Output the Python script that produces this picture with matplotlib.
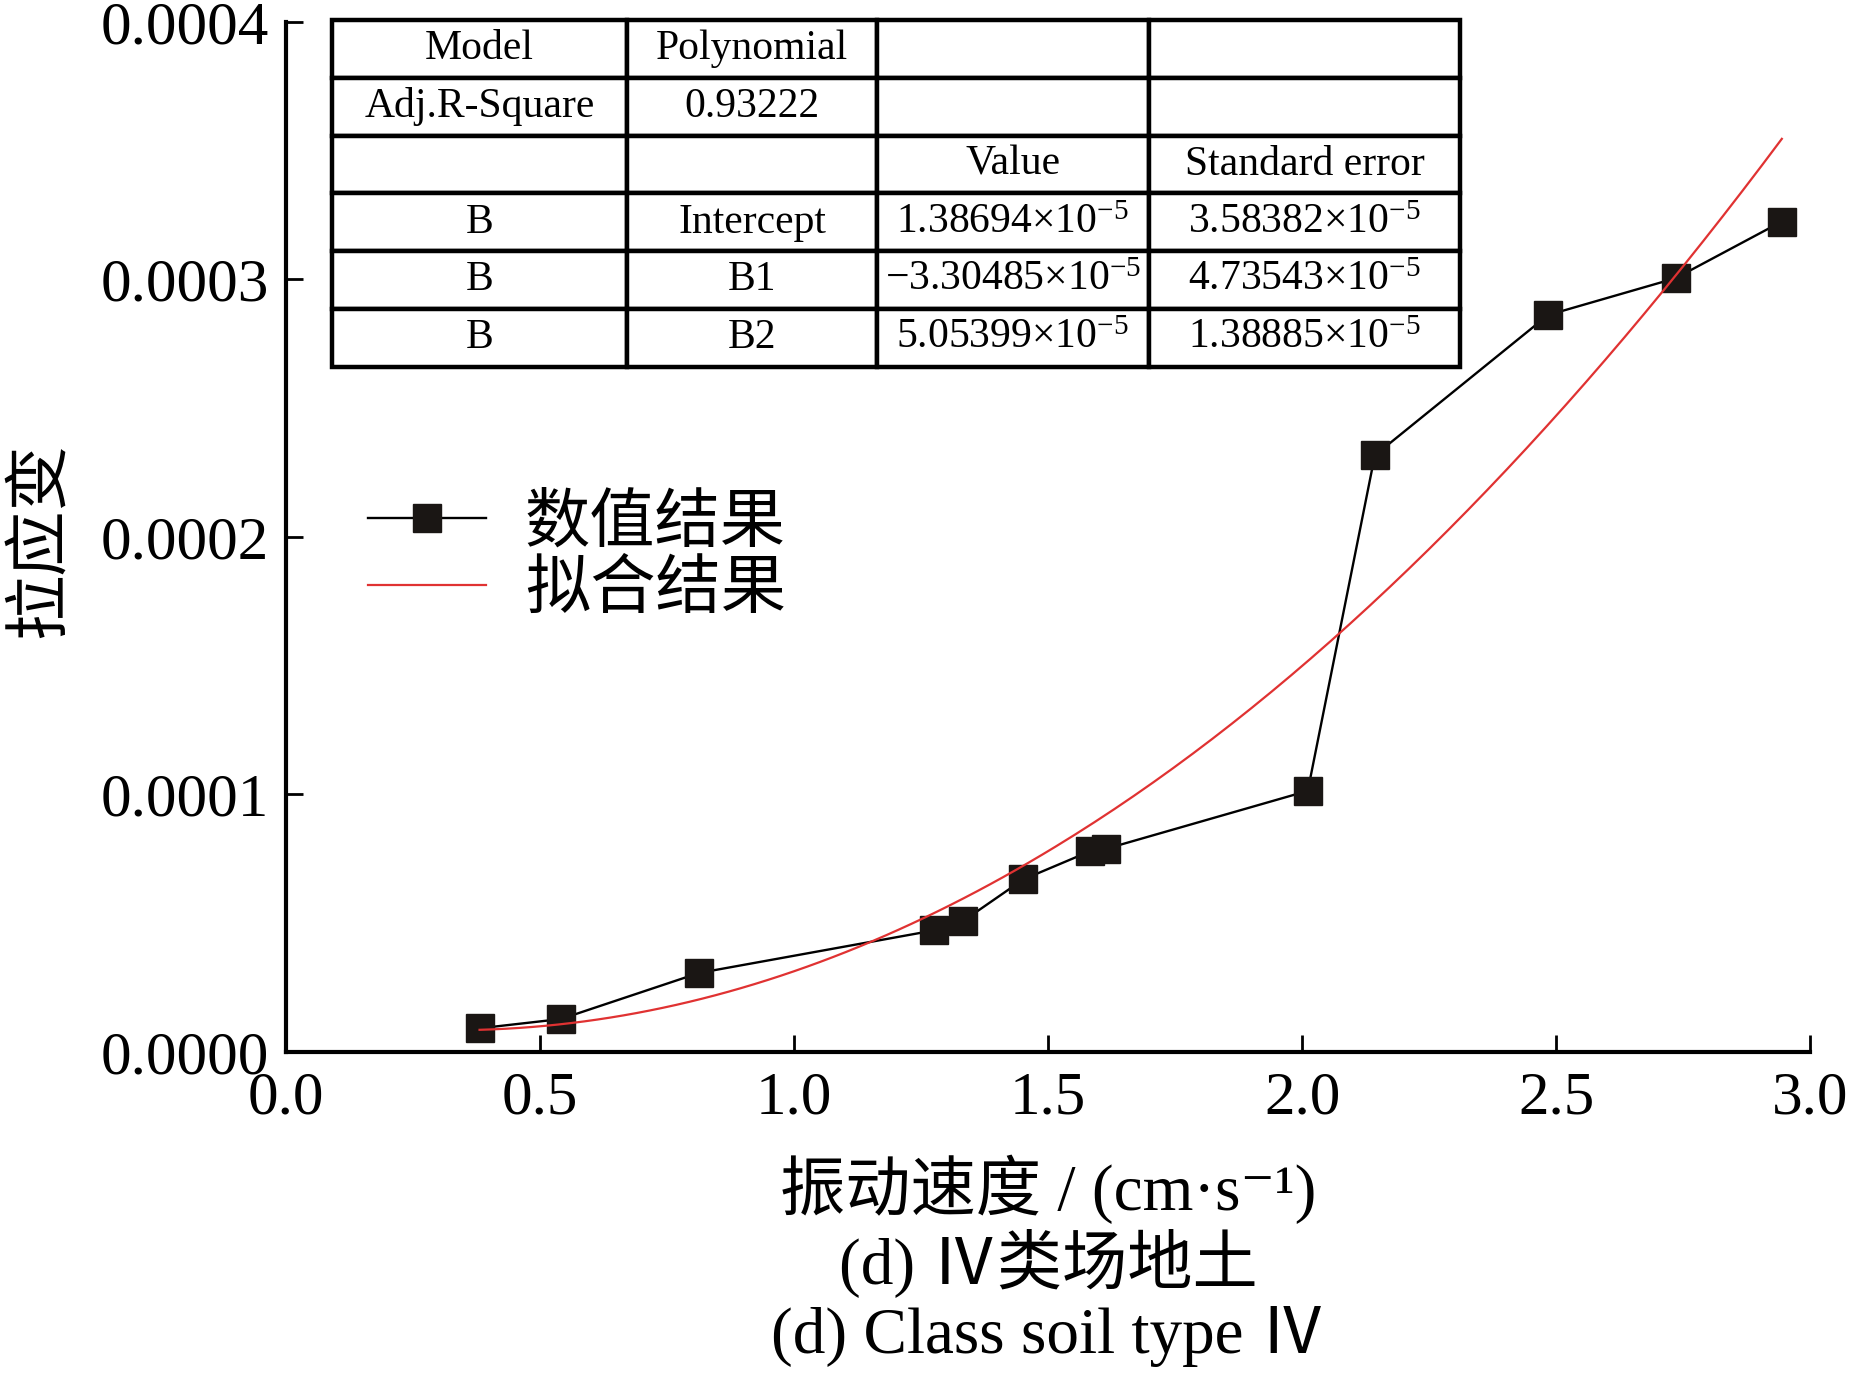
import numpy as np
import matplotlib
matplotlib.use("Agg")
import matplotlib.pyplot as plt

plt.rcParams['font.family'] = ['Liberation Serif', 'Noto Sans CJK SC', 'DejaVu Serif']
plt.rcParams['mathtext.fontset'] = 'custom'
plt.rcParams['mathtext.rm'] = 'Liberation Serif'
plt.rcParams['mathtext.it'] = 'Liberation Serif:italic'
plt.rcParams['axes.unicode_minus'] = True

# [Data]______________________________________________________________________
speed = [0.381, 0.541, 0.813, 1.275, 1.333, 1.451, 1.583, 1.614,
         2.011, 2.143, 2.484, 2.735, 2.944]
strain = [0.0000092, 0.0000128, 0.0000307, 0.0000472, 0.0000509, 0.0000670,
          0.0000780, 0.0000789, 0.0001014, 0.0002317, 0.0002862, 0.0003005,
          0.0003225]

# polynomial fit reported in the table
model_name = "Polynomial"
adj_r2 = "0.93222"
coef_names = ["Intercept", "B1", "B2"]
coef_value = [1.38694, -3.30485, 5.05399]   # x 10^-5
coef_error = [3.58382, 4.73543, 1.38885]    # x 10^-5

xticks = [0.0, 0.5, 1.0, 1.5, 2.0, 2.5, 3.0]
yticks = [0.0, 0.0001, 0.0002, 0.0003, 0.0004]


def sci(v):
    s = f"{abs(v):.5f}"
    if v < 0:
        s = "\u2212" + s
    return s + r"$\times$10$^{\mathregular{-5}}$"


# [Figure]____________________________________________________________________
fig = plt.figure(figsize=(18.51, 13.73), dpi=100)
ax = fig.add_axes([0.1545, 0.2338, 0.8235, 0.7502])

x_fit = np.linspace(speed[0], speed[-1], 200)
b0, b1, b2 = [c * 1e-5 for c in coef_value]
y_fit = b0 + b1 * x_fit + b2 * x_fit ** 2

ax.plot(speed, strain, color="black", lw=1.7, marker="s", ms=19.5,
        markerfacecolor="#1a1614", markeredgecolor="#1a1614", label="数值结果")
ax.plot(x_fit, y_fit, color="#e03232", lw=1.6, label="拟合结果")

ax.set_xlim(0, 3.0)
ax.set_ylim(0, 0.0004)
ax.set_xticks(xticks)
ax.set_yticks(yticks)
ax.set_xticklabels([f"{t:.1f}" for t in xticks], fontsize=44)
ax.set_yticklabels([f"{t:.4f}" for t in yticks], fontsize=44)
ax.tick_params(direction="in", length=12, width=2)
ax.tick_params(axis="y", pad=12)
ax.tick_params(axis="x", pad=14)
for side in ["top", "right"]:
    ax.spines[side].set_visible(False)
for side in ["left", "bottom"]:
    ax.spines[side].set_linewidth(3)

ax.set_xlabel("振动速度 / (cm·s⁻¹)", fontsize=47)
ax.xaxis.set_label_coords(0.5, -0.133)
ax.xaxis.label.set_va("center")
ax.set_ylabel("拉应变", fontsize=47, va="center")
ax.yaxis.set_label_coords(-0.16, 0.497)
ax.text(0.5, -0.205, "(d) Ⅳ类场地土", transform=ax.transAxes,
        fontsize=47, ha="center", va="center")
ax.text(0.5, -0.276, "(d) Class soil type Ⅳ", transform=ax.transAxes,
        fontsize=47, ha="center", va="center")

ax.legend(loc="upper left", bbox_to_anchor=(0.054, 0.541), frameon=False,
          fontsize=47, handlelength=1.8, handletextpad=0.6, labelspacing=0.1,
          borderpad=0, borderaxespad=0, numpoints=1)

cells = [["Model", model_name, "", ""],
         ["Adj.R-Square", adj_r2, "", ""],
         ["", "", "Value", "Standard error"]]
for n, v, e in zip(coef_names, coef_value, coef_error):
    cells.append(["B", n, sci(v), sci(e)])

tab = ax.table(cellText=cells, cellLoc="center",
               colWidths=[0.194, 0.1635, 0.1785, 0.2045],
               bbox=[0.030, 0.665, 0.7405, 0.337])
tab.auto_set_font_size(False)
tab.set_fontsize(30)
for cell in tab.get_celld().values():
    cell.set_linewidth(3.2)
    cell.set_clip_on(False)

fig.savefig("out.png", dpi=100)
